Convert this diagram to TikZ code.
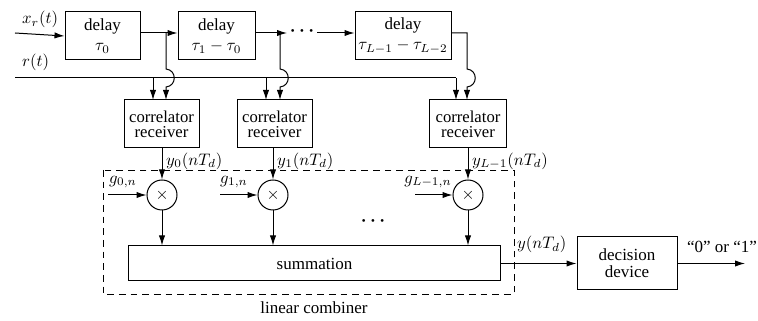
\documentclass[tikz,border=0pt]{standalone}
\usepackage{fontspec}
\setmainfont{Liberation Serif}
\usetikzlibrary{arrows.meta}
\begin{document}
\begin{tikzpicture}[x=0.6pt,y=-0.6pt,
  line width=0.6pt,
  >={Latex[length=6pt,width=3.8pt]},
  blk/.style={draw,align=center,inner sep=0pt,font=\fontsize{10.2}{12}\selectfont},
  corr/.style={draw,align=center,inner sep=0pt,minimum height=28.8pt,font=\fontsize{10}{8.8}\selectfont},
  mult/.style={draw,circle,minimum size=18pt,inner sep=0pt},
  lbl/.style={inner sep=1pt,font=\fontsize{10}{12}\selectfont},
  dots/.style={inner sep=1pt,font=\fontsize{11}{12}\selectfont\boldmath}]
\useasboundingbox (0,0) rectangle (758,321);
% delay boxes
\node[blk,minimum width=45pt,minimum height=28.8pt] (d0) at (102.5,36) {delay\\$\tau_0$};
\node[blk,minimum width=46.2pt,minimum height=28.8pt] (d1) at (216.5,36) {delay\\$\tau_1-\tau_0$};
\node[blk,minimum width=57.6pt,minimum height=28.8pt] (d2) at (403,36) {delay\\$\tau_{L-1}-\tau_{L-2}$};
% correlators
\node[corr,minimum width=45pt] (c0) at (161.5,124) {correlator\\receiver};
\node[corr,minimum width=45pt] (c1) at (274.5,124) {correlator\\receiver};
\node[corr,minimum width=46.2pt] (c2) at (468,124) {correlator\\receiver};
% multipliers
\node[mult] (m0) at (162,195) {$\times$};
\node[mult] (m1) at (273,195) {$\times$};
\node[mult] (m2) at (468,195) {$\times$};
% summation and decision
\node[blk,minimum width=223.8pt,minimum height=21pt] (sum) at (314.5,263.5) {summation};
\node[blk,minimum width=60pt,minimum height=31.8pt,font=\fontsize{10.2}{10}\selectfont] (dec) at (627,263.5) {decision\\device};
% dashed combiner
\draw[dashed,line width=0.55pt,dash pattern=on 4pt off 3pt] (103,170) rectangle (514,294);
\node[lbl,font=\fontsize{10.2}{12}\selectfont] (lc) at (314,308) {linear combiner};
% coordinates
\coordinate (xin) at (15,33);
\coordinate (rin) at (15,78);
\coordinate (b0) at (166,33);
\coordinate (b1) at (280,33);
\coordinate (b2) at (467,33);
\coordinate (a1) at (287,33);
\coordinate (a2) at (317,33);
% top chain
\draw[->] (xin) -- (d0.west);
\node[lbl,anchor=south west] (xl) at (20,30) {$x_r(t)$};
\draw[->] (d0.east |- xin) -- (d1.west |- xin);
\draw[->] (d1.east |- xin) -- (a1);
\node[dots] (dt) at (302,31) {$\cdots$};
\draw[->] (a2) -- (d2.west |- a2);
% r(t) line
\draw (rin) -- (456,78) coordinate (rend);
\node[lbl,anchor=south west] (rl) at (20,73) {$r(t)$};
\draw[->] (153,78) -- (153,100);
\draw[->] (266,78) -- (266,100);
\draw[->] (rend) -- (456,100);
% branches with hops
\draw[->] (b0) -- (166,69) .. controls (177,70) and (177,86) .. (166,87) -- (166,100);
\draw[->] (b1) -- (280,69) .. controls (291,70) and (291,86) .. (280,87) -- (280,100);
\draw[->] (d2.east |- b2) -- (b2) -- (467,69) .. controls (478,70) and (478,86) .. (467,87) -- (467,100);
% correlator outputs
\draw[->] (c0.south -| m0) -- (m0.north);
\draw[->] (c1.south -| m1) -- (m1.north);
\draw[->] (c2.south -| m2) -- (m2.north);
\node[lbl,anchor=west] (y0) at (164,161) {$y_0(nT_d)$};
\node[lbl,anchor=west] (y1) at (275,161) {$y_1(nT_d)$};
\node[lbl,anchor=west] (y2) at (470,161) {$y_{L-1}(nT_d)$};
% gains
\draw[->] (108,195) -- (m0.west);
\draw[->] (220,195) -- (m1.west);
\draw[->] (415,195) -- (m2.west);
\node[lbl] (g0) at (123,182) {$g_{0,n}$};
\node[lbl] (g1) at (234,182) {$g_{1,n}$};
\node[lbl] (g2) at (428,182) {$g_{L-1,n}$};
\node[dots] (md) at (373,221) {$\cdots$};
% to summation
\draw[->] (m0.south) -- (sum.north -| m0);
\draw[->] (m1.south) -- (sum.north -| m1);
\draw[->] (m2.south) -- (sum.north -| m2);
% output
\draw[->] (sum.east) -- (dec.west);
\node[lbl,anchor=south west] (yl) at (515,255) {$y(nT_d)$};
\draw[->] (dec.east) -- (745,263.5) coordinate (out);
\node[lbl,anchor=south,font=\fontsize{10.2}{12}\selectfont] (ol) at (722,255) {``0'' or ``1''};
\end{tikzpicture}
\end{document}
